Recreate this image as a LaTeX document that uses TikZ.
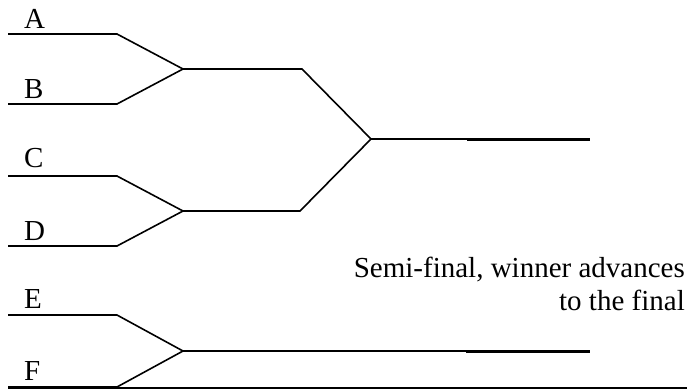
\documentclass[tikz,border=0pt]{standalone}
\usepackage{fontspec}
\setmainfont{Liberation Serif}
\begin{document}
\begin{tikzpicture}[x=1pt,y=-1pt,
  br/.style={line width=1.6pt},
  thk/.style={line width=3pt},
  lbl/.style={anchor=base west, inner sep=0pt, font=\fontsize{29}{33}\selectfont}]
\useasboundingbox (0,0) rectangle (687,389);
% entrants
\coordinate (a0) at (8,34);   \coordinate (a1) at (117,34);
\coordinate (b0) at (8,104);  \coordinate (b1) at (117,104);
\coordinate (c0) at (8,176);  \coordinate (c1) at (117,176);
\coordinate (d0) at (8,246);  \coordinate (d1) at (117,246);
\coordinate (e0) at (8,315);  \coordinate (e1) at (117,315);
\coordinate (f0) at (8,387);  \coordinate (f1) at (117,387);
% junctions
\coordinate (ab) at (183,69);  \coordinate (ab1) at (302,69);
\coordinate (cd) at (183,211); \coordinate (cd1) at (300,211);
\coordinate (ef) at (183,351); \coordinate (ef1) at (466,351); \coordinate (ef2) at (590,351);
\coordinate (fin) at (371,139); \coordinate (fin1) at (467,139); \coordinate (fin2) at (590,139);
\coordinate (bl0) at (8,388); \coordinate (bl1) at (687,388);
% labels
\node[lbl] (la) at (24,28) {A};
\node[lbl] (lb) at (24,98) {B};
\node[lbl] (lc) at (24,167) {C};
\node[lbl] (ld) at (24,240) {D};
\node[lbl] (le) at (24,308) {E};
\node[lbl] (lf) at (24,380) {F};
\node[anchor=north east, inner sep=0pt, align=right, font=\fontsize{29}{33}\selectfont] (semi) at (685,257)
  {Semi-final, winner advances\\to the final};
% bracket lines
\draw[br] (a0) -- (a1) -- (ab);
\draw[br] (b0) -- (b1) -- (ab);
\draw[br] (ab) -- (ab1) -- (fin);
\draw[br] (c0) -- (c1) -- (cd);
\draw[br] (d0) -- (d1) -- (cd);
\draw[br] (cd) -- (cd1) -- (fin);
\draw[br] (fin) -- (fin1);
\draw[thk] (fin1) -- (fin2);
\draw[br] (e0) -- (e1) -- (ef);
\draw[thk] (f0) -- (f1);
\draw[br] (f1) -- (ef);
\draw[br] (ef) -- (ef1);
\draw[thk] (ef1) -- (ef2);
\draw[line width=1.2pt] (bl0) -- (bl1);
\end{tikzpicture}
\end{document}
